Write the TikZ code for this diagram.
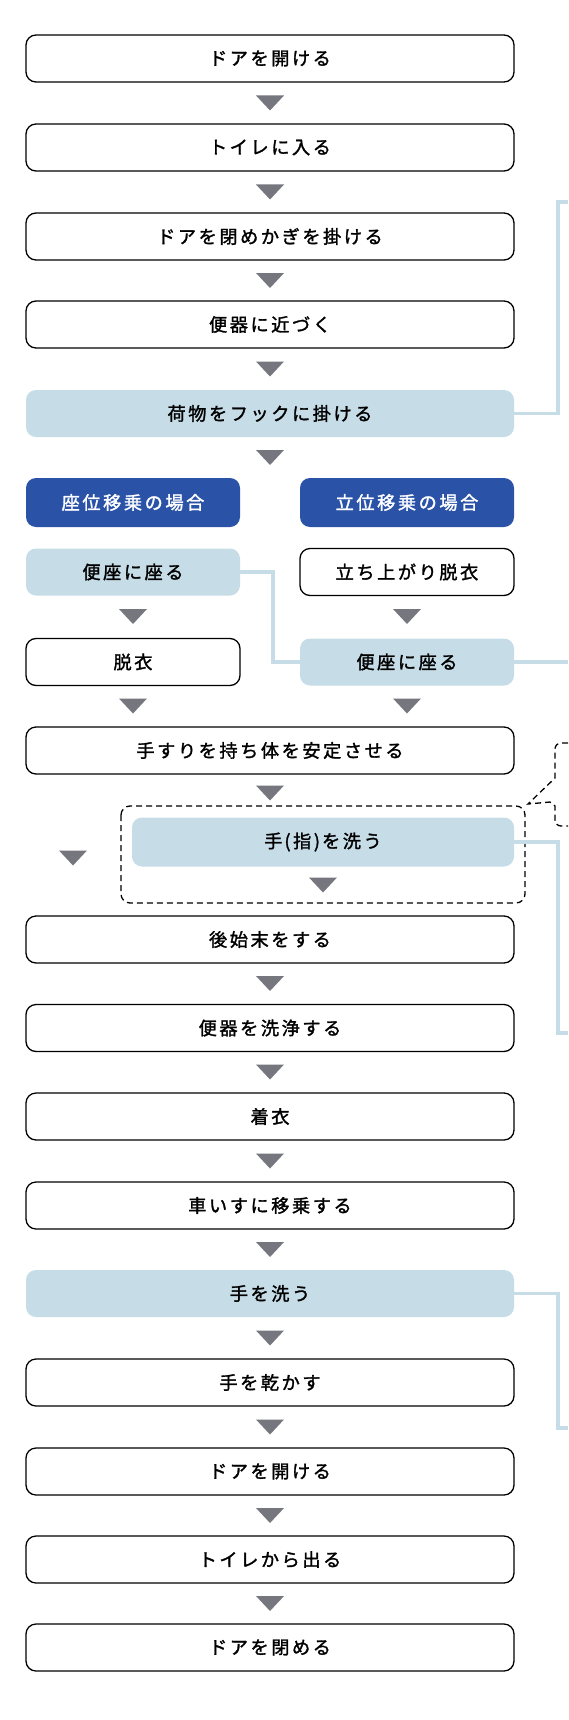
\documentclass[tikz,border=0pt]{standalone}
\usepackage{fontspec}
\setmainfont{Noto Sans CJK JP}[LetterSpace=14, FakeBold=1.6]
\definecolor{hdrblue}{HTML}{2A53A8}
\definecolor{lightblue}{HTML}{C6DDE7}
\definecolor{trigray}{HTML}{76767E}
\newcommand{\tridown}[2]{\fill[trigray] (#1-14,#2-7.5) -- (#1+14,#2-7.5) -- (#1,#2+7.5) -- cycle;}
\begin{document}
\begin{tikzpicture}[x=1pt,y=-1pt,
  base/.style={rounded corners=10pt, inner sep=0pt, minimum height=47pt, font=\fontsize{18.2pt}{20pt}\selectfont, align=center},
  wbox/.style={base, draw=black, line width=1.3pt, fill=white},
  bbox/.style={base, fill=lightblue},
  hbox/.style={base, fill=hdrblue, text=white},
  conn/.style={draw=lightblue, line width=3.5pt},
  dashbox/.style={draw=black, line width=1.3pt, dash pattern=on 6pt off 4pt, rounded corners=9pt}]
\useasboundingbox[fill=white] (0,0) rectangle (568,1720);

% main column top
\node[wbox, minimum width=488pt] (b1) at (270,58.5) {ドアを開ける};
\node[wbox, minimum width=488pt] (b2) at (270,147.5) {トイレに入る};
\node[wbox, minimum width=488pt] (b3) at (270,236.5) {ドアを閉めかぎを掛ける};
\node[wbox, minimum width=488pt] (b4) at (270,324.5) {便器に近づく};
\node[bbox, minimum width=488pt] (b5) at (270,413.5) {荷物をフックに掛ける};

% two columns
\node[hbox, minimum width=214pt, minimum height=49pt] (h1) at (133,502.5) {座位移乗の場合};
\node[hbox, minimum width=214pt, minimum height=49pt] (h2) at (407,502.5) {立位移乗の場合};
\node[bbox, minimum width=214pt] (l1) at (133,572) {便座に座る};
\node[wbox, minimum width=214pt] (r1) at (407,572) {立ち上がり脱衣};
\node[wbox, minimum width=214pt] (l2) at (133,662) {脱衣};
\node[bbox, minimum width=214pt] (r2) at (407,662) {便座に座る};

\node[wbox, minimum width=488pt] (b6) at (270,750.5) {手すりを持ち体を安定させる};

% dashed group
\draw[dashbox] (121,806) rectangle (525,903);
\node[bbox, minimum width=382pt, minimum height=49pt] (b7) at (323,842) {手\hspace{2pt}(指)\hspace{2pt}を洗う};

\node[wbox, minimum width=488pt] (b8) at (270,939.5) {後始末をする};
\node[wbox, minimum width=488pt] (b9) at (270,1028) {便器を洗浄する};
\node[wbox, minimum width=488pt] (b10) at (270,1116.5) {着衣};
\node[wbox, minimum width=488pt] (b11) at (270,1205.5) {車いすに移乗する};
\node[bbox, minimum width=488pt] (b12) at (270,1293.5) {手を洗う};
\node[wbox, minimum width=488pt] (b13) at (270,1382.5) {手を乾かす};
\node[wbox, minimum width=488pt] (b14) at (270,1471.5) {ドアを開ける};
\node[wbox, minimum width=488pt] (b15) at (270,1559.5) {トイレから出る};
\node[wbox, minimum width=488pt] (b16) at (270,1647.5) {ドアを閉める};

% triangles
\tridown{270}{103}
\tridown{270}{192}
\tridown{270}{280.5}
\tridown{270}{369}
\tridown{270}{457.5}
\tridown{133}{616.5}
\tridown{407}{616.5}
\tridown{133}{706}
\tridown{407}{706}
\tridown{270}{793}
\tridown{323}{885}
\tridown{73}{858}
\tridown{270}{983.5}
\tridown{270}{1072}
\tridown{270}{1161}
\tridown{270}{1249.5}
\tridown{270}{1338}
\tridown{270}{1427}
\tridown{270}{1515.5}
\tridown{270}{1603.5}

% light blue connectors
\coordinate (c1a) at (558,202);
\coordinate (c1b) at (568,202);
\draw[conn] (b5.east) -| (c1a) -- (c1b);
\coordinate (c2a) at (273,572);
\draw[conn] (l1.east) -- (c2a) |- (r2.west);
\coordinate (c3) at (568,662);
\draw[conn] (r2.east) -- (c3);
\coordinate (c4a) at (558,1033);
\coordinate (c4b) at (568,1033);
\draw[conn] (b7.east) -| (c4a) -- (c4b);
\coordinate (c5a) at (558,1428);
\coordinate (c5b) at (568,1428);
\draw[conn] (b12.east) -| (c5a) -- (c5b);

% callout (cut by the right edge)
\draw[black, line width=1.3pt, dash pattern=on 6pt off 4pt]
  (568,743) -- (561,743) arc[start angle=-90, end angle=-180, radius=6] -- (555,778) -- (528,804) -- (550,802) -- (555,806) -- (555,820) arc[start angle=180, end angle=90, radius=6] -- (568,826);
\end{tikzpicture}
\end{document}
